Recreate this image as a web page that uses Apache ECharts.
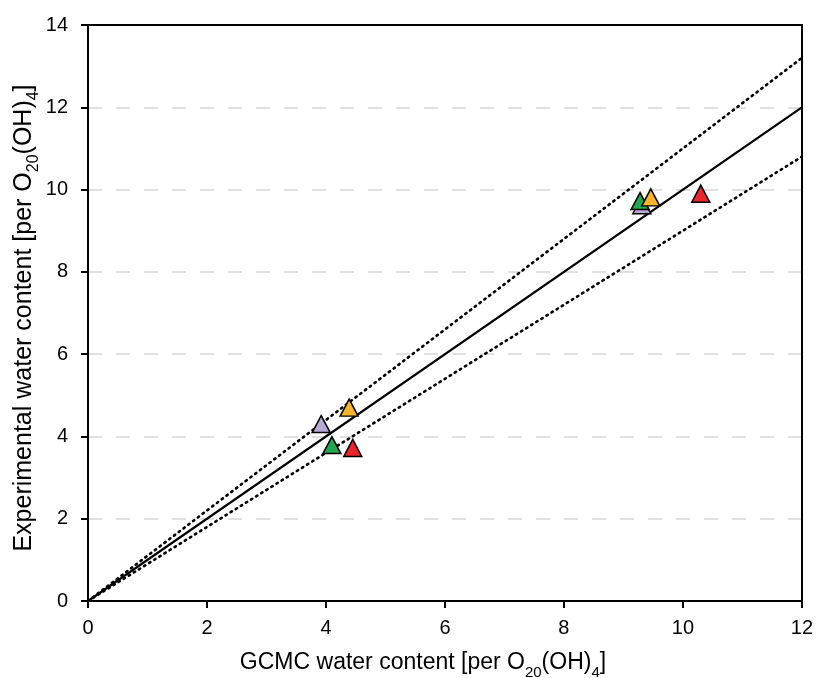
<!DOCTYPE html>
<html><head><meta charset="utf-8">
<script src="https://cdn.jsdelivr.net/npm/echarts@6/dist/echarts.min.js"></script>
<style>html,body{margin:0;padding:0;background:#fff}#c{width:816px;height:678px}</style>
</head><body><div id="c"></div>
<script>
// Data (x = GCMC, y = experimental)
const purplePts = [[3.92, 4.30], [9.31, 9.62]];
const greenPts  = [[4.10, 3.79], [9.28, 9.72]];
const yellowPts = [[4.39, 4.70], [9.46, 9.81]];
const redPts    = [[4.45, 3.72], [10.30, 9.90]];
const parityLine = [[0, 0], [12, 12]];
const upperLine  = [[0, 0], [12, 13.2]];
const lowerLine  = [[0, 0], [12, 10.8]];
const xTicks = [0, 2, 4, 6, 8, 10, 12];
const yTicks = [0, 2, 4, 6, 8, 10, 12, 14];

const FONT = '"Liberation Sans", Arial, sans-serif';
const chart = echarts.init(document.getElementById('c'), null, {renderer: 'canvas'});
function sc(name, data, color, z) {
  return {
    name, type: 'scatter', data, symbol: 'triangle', symbolSize: [18, 17], z,
    itemStyle: {color, borderColor: '#000', borderWidth: 1.5, opacity: 1}
  };
}
function ln(data, type, width) {
  return {
    type: 'line', data, showSymbol: false, symbol: 'none', z: 1, silent: true,
    lineStyle: {color: '#000', width, type, cap: 'round'}
  };
}
function rich(m, s) {
  return {
    m: {fontSize: m, fontFamily: FONT, color: '#000', lineHeight: m + 5},
    s: {fontSize: s, fontFamily: FONT, color: '#000', verticalAlign: 'bottom', lineHeight: s, padding: [0, 0, -3, 0]}
  };
}
const frameAxis = {
  type: 'value', axisLine: {show: true, onZero: false, lineStyle: {color: '#000', width: 2}},
  axisTick: {show: false}, axisLabel: {show: false}, splitLine: {show: false}
};
chart.setOption({
  animation: false,
  backgroundColor: '#fff',
  grid: {left: 88, top: 25, right: 14, bottom: 77},
  xAxis: [{
    type: 'value', min: xTicks[0], max: xTicks[xTicks.length - 1], interval: 2,
    axisLine: {show: true, lineStyle: {color: '#000', width: 2}},
    axisTick: {show: true, inside: false, length: 7, lineStyle: {color: '#000', width: 2}},
    axisLabel: {color: '#000', fontSize: 20, fontFamily: FONT, margin: 17},
    splitLine: {show: false}
  }, Object.assign({position: 'top', min: 0, max: 12}, frameAxis)],
  yAxis: [{
    type: 'value', min: yTicks[0], max: yTicks[yTicks.length - 1], interval: 2,
    axisLine: {show: true, lineStyle: {color: '#000', width: 2}},
    axisTick: {show: true, inside: false, length: 7, lineStyle: {color: '#000', width: 2}},
    axisLabel: {color: '#000', fontSize: 20, fontFamily: FONT, margin: 20},
    splitLine: {show: true, showMinLine: false, showMaxLine: false, lineStyle: {color: '#d6d6d6', width: 1.5, type: [14, 14]}}
  }, Object.assign({position: 'right', min: 0, max: 14}, frameAxis)],
  graphic: [
    {type: 'text', x: 423, y: 663, style: {text: '{m|GCMC water content [per O}{s|20}{m|(OH)}{s|4}{m|]}', rich: rich(23, 15), align: 'center', verticalAlign: 'middle'}},
    {type: 'text', x: 24, y: 318, rotation: Math.PI / 2, style: {text: '{m|Experimental water content [per O}{s|20}{m|(OH)}{s|4}{m|]}', rich: rich(25, 16), align: 'center', verticalAlign: 'middle'}}
  ],
  series: [
    ln(parityLine, 'solid', 2.2),
    ln(upperLine, [1.5, 4.5], 2.6),
    ln(lowerLine, [1.5, 4.5], 2.6),
    sc('purple', purplePts, '#b5abd4', 10),
    sc('green', greenPts, '#23a552', 11),
    sc('yellow', yellowPts, '#f7b52c', 12),
    sc('red', redPts, '#e8262b', 13)
  ]
});
</script></body></html>
